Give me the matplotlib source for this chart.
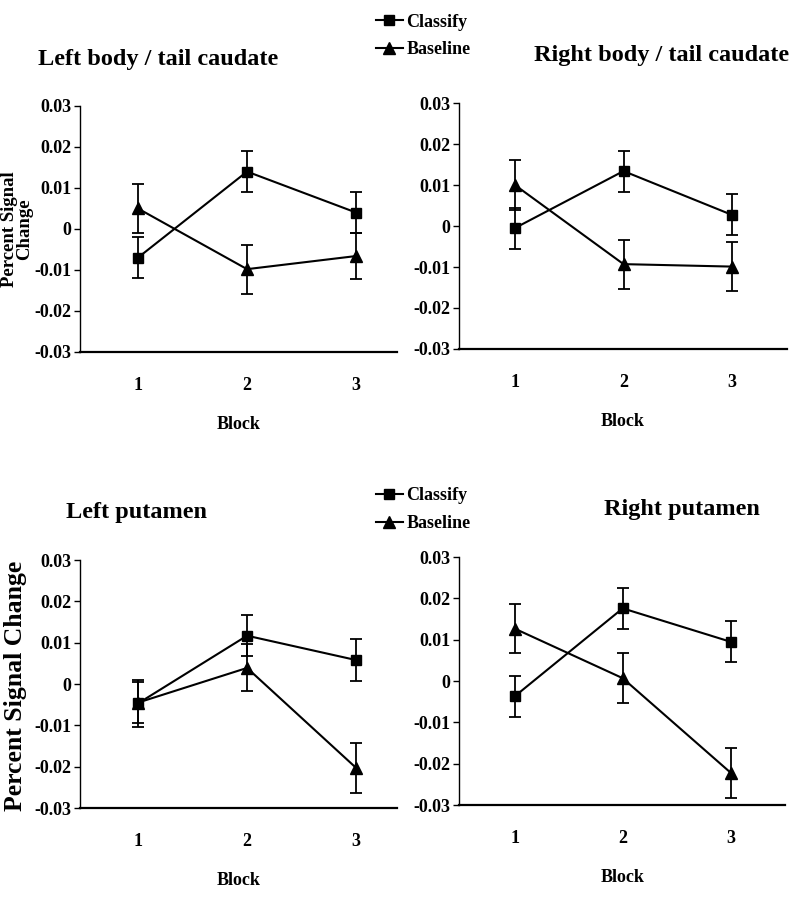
"""Percent signal change by block: caudate and putamen, Classify vs Baseline."""
import matplotlib
matplotlib.use("Agg")
import matplotlib.pyplot as plt
from matplotlib.lines import Line2D

plt.rcParams["font.family"] = ["Liberation Serif", "DejaVu Serif"]
plt.rcParams["font.weight"] = "bold"

blocks = [1, 2, 3]
block_ticks = ["1", "2", "3"]
y_ticks = [-0.03, -0.02, -0.01, 0, 0.01, 0.02, 0.03]
y_tick_labels = ["-0.03", "-0.02", "-0.01", "0", "0.01", "0.02", "0.03"]

titles = ["Left body / tail caudate", "Right body / tail caudate",
          "Left putamen", "Right putamen"]

# mean values per panel (same order as titles)
classify_mean = [
    [-0.007, 0.014, 0.004],
    [-0.0005, 0.0134, 0.0027],
    [-0.0047, 0.0117, 0.0058],
    [-0.0037, 0.0176, 0.0095],
]
classify_err = [
    [0.005, 0.005, 0.005],
    [0.005, 0.005, 0.005],
    [0.0057, 0.005, 0.005],
    [0.005, 0.005, 0.005],
]
baseline_mean = [
    [0.005, -0.0098, -0.0066],
    [0.010, -0.0093, -0.0099],
    [-0.0045, 0.0039, -0.0203],
    [0.0127, 0.0007, -0.0222],
]
baseline_err = [
    [0.006, 0.006, 0.0057],
    [0.006, 0.006, 0.006],
    [0.005, 0.0057, 0.006],
    [0.006, 0.006, 0.006],
]

# axes boxes in figure fraction [left, bottom, width, height]
boxes = [
    [0.101, 0.6085, 0.401, 0.2736],
    [0.580, 0.6118, 0.415, 0.2736],
    [0.101, 0.1012, 0.401, 0.2758],
    [0.580, 0.1045, 0.413, 0.2758],
]
xlims = [(0.468, 3.375), (0.483, 3.506), (0.468, 3.375), (0.483, 3.506)]
title_pos = [(0.200, 0.934), (0.836, 0.938), (0.172, 0.430), (0.862, 0.433)]

fig = plt.figure(figsize=(7.91, 8.99), dpi=100)

for i in range(4):
    ax = fig.add_axes(boxes[i])
    ax.errorbar(blocks, classify_mean[i], yerr=classify_err[i], color="black",
                marker="s", markersize=7, lw=1.5, elinewidth=1.3,
                capsize=4, capthick=1.3, label="Classify")
    ax.errorbar(blocks, baseline_mean[i], yerr=baseline_err[i], color="black",
                marker="^", markersize=8, lw=1.5, elinewidth=1.3,
                capsize=4, capthick=1.3, label="Baseline")
    ax.set_ylim(-0.03, 0.03)
    ax.set_xlim(*xlims[i])
    ax.set_yticks(y_ticks)
    ax.set_yticklabels(y_tick_labels, fontsize=13, fontweight="bold")
    ax.set_xticks(blocks)
    ax.set_xticklabels(block_ticks, fontsize=13, fontweight="bold")
    ax.tick_params(axis="x", length=0, pad=18)
    ax.tick_params(axis="y", length=4, width=1, pad=2)
    for s in ("top", "right"):
        ax.spines[s].set_visible(False)
    ax.spines["left"].set_linewidth(1.0)
    ax.spines["bottom"].set_linewidth(1.6)
    ax.set_xlabel("Block", fontsize=13, fontweight="bold", labelpad=16)
    fig.text(title_pos[i][0], title_pos[i][1], titles[i], fontsize=17.5,
             fontweight="bold", ha="center", va="center")

fig.text(0.021, 0.745, "Percent Signal\nChange", rotation=90, fontsize=13.5,
         fontweight="bold", ha="center", va="center", linespacing=0.85)
fig.text(0.020, 0.237, "Percent Signal Change", rotation=90, fontsize=18.5,
         fontweight="bold", ha="center", va="center")

handles = [Line2D([0], [0], color="black", lw=1.5, marker="s", markersize=7),
           Line2D([0], [0], color="black", lw=1.5, marker="^", markersize=8)]
for y in (0.960, 0.433):
    fig.legend(handles=handles, labels=["Classify", "Baseline"],
               loc="center", bbox_to_anchor=(0.535, y), frameon=False,
               fontsize=13, handlelength=1.5, handletextpad=0.2,
               labelspacing=0.6, borderpad=0)

fig.savefig("out.png", dpi=100)
